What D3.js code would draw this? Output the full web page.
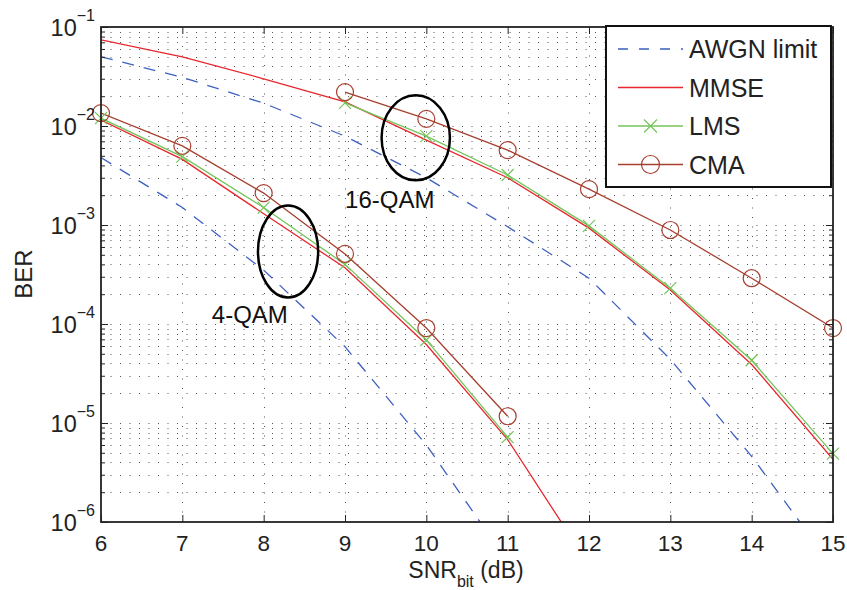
<!DOCTYPE html>
<html>
<head>
<meta charset="utf-8">
<script src="https://cdn.jsdelivr.net/npm/d3@7"></script>
<style>
  body { margin: 0; background: #fff; }
  svg { display: block; font-family: "Liberation Sans", Arial, Helvetica, sans-serif; }
</style>
</head>
<body>
<svg id="chart" width="847" height="590"></svg>
<script>
/* BER vs SNR per bit, 4-QAM and 16-QAM, equalizer comparison. */

const snrTicks = [6, 7, 8, 9, 10, 11, 12, 13, 14, 15];
const berDecades = [1e-6, 1e-5, 1e-4, 1e-3, 1e-2, 1e-1];

// 16-QAM
const awgn16X = [6, 7, 8, 9, 10, 11, 12, 13, 14, 15];
const awgn16 = [0.050, 0.031, 0.017, 0.0079, 0.0030, 9.6e-4, 2.9e-4, 4.4e-5, 4.6e-6, 3.5e-7];
const mmse16X = [6, 7, 8, 9, 10, 11, 12, 13, 14, 15];
const mmse16 = [0.074, 0.050, 0.030, 0.0175, 0.0072, 0.0030, 9.3e-4, 2.2e-4, 3.9e-5, 4.3e-6];
const lms16X = [9, 10, 11, 12, 13, 14, 15];
const lms16 = [0.0171, 0.0079, 0.0032, 9.8e-4, 2.3e-4, 4.3e-5, 4.9e-6];
const cma16X = [9, 10, 11, 12, 13, 14, 15];
const cma16 = [0.022, 0.0118, 0.0057, 0.0023, 8.9e-4, 2.9e-4, 9.1e-5];

// 4-QAM
const awgn4X = [6, 7, 8, 9, 10, 11];
const awgn4 = [0.0048, 0.0015, 3.5e-4, 5.9e-5, 6.0e-6, 4.0e-7];
const mmse4X = [6, 7, 8, 9, 10, 11, 12];
const mmse4 = [0.0115, 0.0046, 0.0013, 3.7e-4, 6.2e-5, 6.8e-6, 3.7e-7];
const lms4X = [6, 7, 8, 9, 10, 11];
const lms4 = [0.012, 0.0049, 0.0015, 4.0e-4, 6.9e-5, 7.2e-6];
const cma4X = [6, 7, 8, 9, 10, 11];
const cma4 = [0.0135, 0.0063, 0.0021, 5.1e-4, 9.1e-5, 1.17e-5];

// annotations: centre (snr, ber), half-width in dB, half-height in decades
const ellipses = [
  { cx: 8.30, cy: 5.4e-4, rx: 0.37, ry: 0.465 },
  { cx: 9.87, cy: 7.6e-3, rx: 0.42, ry: 0.43 }
];
const notes = [
  { text: "4-QAM", x: 7.83, y: 1.02e-4 },
  { text: "16-QAM", x: 9.55, y: 1.49e-3 }
];

const legendNames = ["AWGN limit", "MMSE", "LMS", "CMA"];

const COLORS = {
  awgn: "#3d5fbf",
  mmse: "#e8262e",
  lms:  "#74c55a",
  cma:  "#a63f2f"
};

const margin = { left: 101, top: 27, right: 14, bottom: 68 };
const W = 847, H = 590;
const iw = W - margin.left - margin.right;
const ih = H - margin.top - margin.bottom;

const svg = d3.select("#chart");
const g = svg.append("g").attr("transform", "translate(" + margin.left + "," + margin.top + ")");

const x = d3.scaleLinear().domain([6, 15]).range([0, iw]);
const y = d3.scaleLog().domain([1e-6, 1e-1]).range([ih, 0]);

const allY = y.ticks();
const isMajor = function (v) { return Math.abs(Math.log10(v) - Math.round(Math.log10(v))) < 1e-9; };

/* ---------- GRID ---------- */

g.append("clipPath").attr("id", "clip")
  .append("rect").attr("width", iw).attr("height", ih);

const grid = g.append("g").attr("class", "grid")
  .attr("stroke", "#555").attr("stroke-width", 1).attr("stroke-dasharray", "1,8.5");

grid.selectAll("line.h").data(allY.filter(function (v) { return v > 1e-6 && v < 1e-1; }))
  .enter().append("line").attr("class", "h")
  .attr("x1", 0).attr("x2", iw)
  .attr("y1", function (d) { return Math.round(y(d)) + 0.5; })
  .attr("y2", function (d) { return Math.round(y(d)) + 0.5; });

grid.selectAll("line.v").data(snrTicks.slice(1, -1))
  .enter().append("line").attr("class", "v")
  .attr("y1", 0).attr("y2", ih)
  .attr("x1", function (d) { return Math.round(x(d)) + 0.5; })
  .attr("x2", function (d) { return Math.round(x(d)) + 0.5; });

/* ---------- CURVES ---------- */

const plot = g.append("g").attr("clip-path", "url(#clip)");
const line = d3.line()
  .x(function (d) { return x(d[0]); })
  .y(function (d) { return y(d[1]); });

function zip(xs, ys) { return xs.map(function (v, i) { return [v, ys[i]]; }); }

const series = [
  { data: zip(awgn16X, awgn16), color: COLORS.awgn, dash: "12,10", marker: null },
  { data: zip(awgn4X, awgn4), color: COLORS.awgn, dash: "12,10", marker: null },
  { data: zip(mmse16X, mmse16), color: COLORS.mmse, marker: null },
  { data: zip(mmse4X, mmse4), color: COLORS.mmse, marker: null },
  { data: zip(lms16X, lms16), color: COLORS.lms, marker: "x" },
  { data: zip(lms4X, lms4), color: COLORS.lms, marker: "x" },
  { data: zip(cma16X, cma16), color: COLORS.cma, marker: "o" },
  { data: zip(cma4X, cma4), color: COLORS.cma, marker: "o" }
];

function drawMarker(sel, type, color, size) {
  if (type === "x") {
    sel.append("path")
      .attr("d", "M" + (-size) + "," + (-size) + "L" + size + "," + size +
                 "M" + (-size) + "," + size + "L" + size + "," + (-size))
      .attr("stroke", color).attr("stroke-width", 1.2).attr("fill", "none");
  } else if (type === "o") {
    sel.append("circle").attr("r", size)
      .attr("stroke", color).attr("stroke-width", 1.2).attr("fill", "none");
  }
}

series.forEach(function (s) {
  plot.append("path")
    .datum(s.data)
    .attr("d", line)
    .attr("fill", "none")
    .attr("stroke", s.color)
    .attr("stroke-width", 1.3)
    .attr("stroke-dasharray", s.dash || null);
});

series.forEach(function (s) {
  if (!s.marker) return;
  s.data.forEach(function (d) {
    const m = g.append("g").attr("transform", "translate(" + x(d[0]) + "," + y(d[1]) + ")");
    drawMarker(m, s.marker, s.color, s.marker === "x" ? 6 : 8.5);
  });
});

/* ---------- ANNOTATIONS ---------- */

ellipses.forEach(function (e) {
  const cy = y(e.cy);
  const ry = y(e.cy / Math.pow(10, e.ry)) - cy;
  g.append("ellipse")
    .attr("cx", x(e.cx)).attr("cy", cy)
    .attr("rx", x(e.cx + e.rx) - x(e.cx)).attr("ry", ry)
    .attr("fill", "none").attr("stroke", "#000").attr("stroke-width", 2.5);
});

notes.forEach(function (n) {
  g.append("text")
    .attr("x", x(n.x)).attr("y", y(n.y))
    .attr("text-anchor", "middle")
    .attr("font-size", 24)
    .attr("fill", "#111")
    .text(n.text);
});

/* ---------- AXES ---------- */

const axisColor = "#222";

function styleAxis(sel) {
  sel.select(".domain").remove();
  sel.selectAll("line").attr("stroke", axisColor).attr("stroke-width", 1);
}

g.append("g").attr("transform", "translate(0," + ih + ")")
  .call(d3.axisBottom(x).tickValues(snrTicks).tickSize(-7).tickFormat(""))
  .call(styleAxis);
g.append("g")
  .call(d3.axisTop(x).tickValues(snrTicks).tickSize(-7).tickFormat(""))
  .call(styleAxis);

const yAxisL = g.append("g")
  .call(d3.axisLeft(y).tickValues(allY).tickSize(-4).tickFormat(""))
  .call(styleAxis);
const yAxisR = g.append("g").attr("transform", "translate(" + iw + ",0)")
  .call(d3.axisRight(y).tickValues(allY).tickSize(-4).tickFormat(""))
  .call(styleAxis);
[yAxisL, yAxisR].forEach(function (ax) {
  ax.selectAll(".tick").filter(function (d) { return isMajor(d); })
    .select("line").attr("x2", function () { return ax === yAxisL ? 7 : -7; });
});

g.append("rect")
  .attr("width", iw).attr("height", ih)
  .attr("fill", "none").attr("stroke", axisColor).attr("stroke-width", 1.8);

/* tick labels */
g.selectAll("text.xt").data(snrTicks).enter().append("text")
  .attr("class", "xt")
  .attr("x", function (d) { return x(d); })
  .attr("y", ih + 29)
  .attr("text-anchor", "middle")
  .attr("font-size", 22.5)
  .attr("fill", "#222")
  .text(function (d) { return d; });

const yt = g.selectAll("text.yt").data(berDecades).enter().append("text")
  .attr("class", "yt")
  .attr("x", -6)
  .attr("y", function (d) { return y(d) + 9; })
  .attr("text-anchor", "end")
  .attr("font-size", 23.5)
  .attr("fill", "#222");
yt.append("tspan").text("10");
yt.append("tspan")
  .attr("dy", -15)
  .attr("font-size", 16)
  .text(function (d) { return "\u2212" + Math.round(-Math.log10(d)); });

/* axis titles */
const xl = svg.append("text")
  .attr("x", margin.left + iw / 2 - 1)
  .attr("y", 578)
  .attr("text-anchor", "middle")
  .attr("font-size", 23)
  .attr("fill", "#222");
xl.append("tspan").text("SNR");
xl.append("tspan").attr("dy", 9).attr("font-size", 16).text("bit");
xl.append("tspan").attr("dy", -9).text(" (dB)");

svg.append("text")
  .attr("transform", "translate(32,274) rotate(-90)")
  .attr("text-anchor", "middle")
  .attr("font-size", 24)
  .attr("fill", "#222")
  .text("BER");

/* ---------- LEGEND ---------- */

const legend = svg.append("g").attr("transform", "translate(606,26)");
legend.append("rect")
  .attr("width", 225).attr("height", 161)
  .attr("fill", "#fff").attr("stroke", "#111").attr("stroke-width", 2);

const legendStyle = [
  { color: COLORS.awgn, dash: "10,11", marker: null },
  { color: COLORS.mmse, marker: null },
  { color: COLORS.lms, marker: "x" },
  { color: COLORS.cma, marker: "o" }
];

legendNames.forEach(function (name, i) {
  const row = legend.append("g").attr("transform", "translate(0," + (23 + i * 38.5) + ")");
  const st = legendStyle[i];
  row.append("line")
    .attr("x1", 12).attr("x2", 77).attr("y1", 0).attr("y2", 0)
    .attr("stroke", st.color).attr("stroke-width", 1.3)
    .attr("stroke-dasharray", st.dash || null);
  if (st.marker) {
    const m = row.append("g").attr("transform", "translate(44.5,0)");
    drawMarker(m, st.marker, st.color, st.marker === "x" ? 6.5 : 9);
  }
  row.append("text")
    .attr("x", 83).attr("y", 9)
    .attr("font-size", 25)
    .attr("fill", "#222")
    .text(name);
});
</script>
</body>
</html>
